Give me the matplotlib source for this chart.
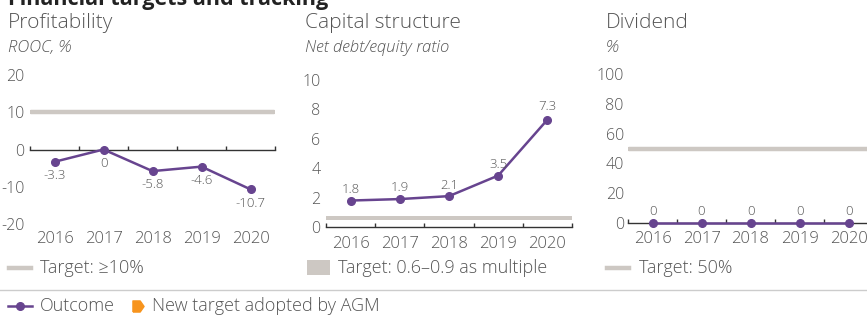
import numpy as np
import matplotlib.pyplot as plt
from matplotlib.lines import Line2D
from matplotlib.patches import Rectangle
from matplotlib.path import Path
import matplotlib.transforms as mtrans

plt.rcParams['font.family'] = ['Open Sans', 'DejaVu Sans']

years = ["2016", "2017", "2018", "2019", "2020"]
rooc = [-3.3, 0, -5.8, -4.6, -10.7]
debt_ratio = [1.8, 1.9, 2.1, 3.5, 7.3]
dividend = [0, 0, 0, 0, 0]
rooc_target = 10
debt_target = (0.6, 0.9)
dividend_target = 50

purple = "#67448f"
gray_target = "#cdc8c3"
text_c = "#555555"
orange = "#f7941d"

W, H = 867, 315
fig = plt.figure(figsize=(W / 100, H / 100), dpi=100)


def rect(x0, y0, x1, y1):
    # pixel box (top-left origin) -> figure fraction
    return [x0 / W, 1 - y1 / H, (x1 - x0) / W, (y1 - y0) / H]


def fx(x):
    return x / W


def fy(y):
    return 1 - y / H


def setup(ax, ylim, yticks, ylab_pad, year_off):
    ax.set_xlim(-0.5, 4.5)
    ax.set_ylim(*ylim)
    for s in ["top", "right", "left"]:
        ax.spines[s].set_visible(False)
    ax.spines["bottom"].set_position(("data", 0))
    ax.spines["bottom"].set_color("#333333")
    ax.spines["bottom"].set_linewidth(1.0)
    ax.set_xticks([])
    ax.set_xticks(np.arange(-0.5, 5, 1), minor=True)
    ax.tick_params(axis="x", which="minor", direction="in", length=3,
                   width=1.0, color="#333333")
    ax.set_yticks(yticks)
    ax.set_yticklabels([str(t) for t in yticks])
    ax.tick_params(axis="y", length=0, pad=ylab_pad, labelsize=11.5,
                   labelcolor=text_c)
    for lab in ax.get_yticklabels():
        lab.set_fontweight("light")
    tr = mtrans.blended_transform_factory(ax.transData, ax.transAxes)
    for i, y in enumerate(years):
        ax.text(i, year_off, y, transform=tr, ha="center", va="center",
                fontsize=12, color=text_c, fontweight="light")
    ax.set_facecolor("none")


x = np.arange(len(years))

# Profitability
ax1 = fig.add_axes(rect(30, 75, 275, 224))
setup(ax1, (-20, 20), [20, 10, 0, -10, -20], 4, -0.10)
ax1.axhline(rooc_target, color=gray_target, lw=3.2, solid_capstyle="round",
            xmin=0.005, xmax=0.995, zorder=1)
ax1.plot(x, rooc, color=purple, lw=1.8, marker="o", ms=5.5, zorder=3,
         clip_on=False)
for xi, v in zip(x, rooc):
    ax1.annotate(f"{v:g}", (xi, v), xytext=(0, -10), textcoords="offset points",
                 ha="center", va="center", fontsize=9.5, color=text_c,
                 fontweight="light")

# Capital structure
ax2 = fig.add_axes(rect(326, 80, 572, 227))
setup(ax2, (0, 10), [10, 8, 6, 4, 2, 0], 4, -0.115)
ax2.axhspan(debt_target[0] - 0.15, debt_target[1] - 0.15, color=gray_target,
            lw=0, zorder=1)
ax2.plot(x, debt_ratio, color=purple, lw=1.8, marker="o", ms=5.5, zorder=3,
         clip_on=False)
for xi, v in zip(x, debt_ratio):
    off = 9.5 if v > 5 else 8
    ax2.annotate(f"{v:g}", (xi, v), xytext=(0, off), textcoords="offset points",
                 ha="center", va="center", fontsize=9.5, color=text_c,
                 fontweight="light")

# Dividend
ax3 = fig.add_axes(rect(628, 74, 873, 223))
setup(ax3, (0, 100), [100, 80, 60, 40, 20, 0], 3, -0.105)
ax3.axhline(dividend_target, color=gray_target, lw=3.2,
            solid_capstyle="round", xmin=0.005, zorder=1)
ax3.plot(x, dividend, color=purple, lw=1.8, marker="o", ms=5.5, zorder=3,
         clip_on=False)
for xi, v in zip(x, dividend):
    ax3.annotate(f"{v:g}", (xi, v), xytext=(0, 8), textcoords="offset points",
                 ha="center", va="center", fontsize=9.5, color=text_c,
                 fontweight="light")

# headings
fig.text(fx(8), fy(5), "Financial targets and tracking", fontsize=15.5,
         fontweight="bold", color="#222222", va="baseline")
for px, title, sub in [(8, "Profitability", "ROOC, %"),
                       (305, "Capital structure", "Net debt/equity ratio"),
                       (606, "Dividend", "%")]:
    fig.text(fx(px), fy(23), title, fontsize=15, color=text_c, va="center",
             fontweight="light")
    fig.text(fx(px), fy(48), sub, fontsize=12, color=text_c, va="center",
             style="italic", fontweight="light")

# target legends
fig.add_artist(Line2D([fx(9), fx(31)], [fy(268), fy(268)], color=gray_target,
                      lw=3.2, transform=fig.transFigure))
fig.text(fx(40), fy(268), "Target: \u226510%", fontsize=13, color=text_c,
         va="center", fontweight="light")
fig.add_artist(Rectangle((fx(307), fy(275)), fx(23), 15 / H, color=gray_target,
                         lw=0, transform=fig.transFigure))
fig.text(fx(338), fy(268), "Target: 0.6\u20130.9 as multiple", fontsize=13,
         color=text_c, va="center", fontweight="light")
fig.add_artist(Line2D([fx(607), fx(629)], [fy(268), fy(268)], color=gray_target,
                      lw=3.2, transform=fig.transFigure))
fig.text(fx(639), fy(268), "Target: 50%", fontsize=13, color=text_c,
         va="center", fontweight="light")

# separator
fig.add_artist(Line2D([0, 1], [fy(290), fy(290)], color="#cccccc", lw=1,
                      transform=fig.transFigure))

# bottom legend
fig.add_artist(Line2D([fx(8), fx(32)], [fy(306), fy(306)], color=purple, lw=1.8,
                      transform=fig.transFigure))
fig.add_artist(Line2D([fx(20)], [fy(306)], color=purple, marker="o", ms=5.5,
                      transform=fig.transFigure))
fig.text(fx(40), fy(306), "Outcome", fontsize=13, color=text_c, va="center",
         fontweight="light")
flag = Path([(-1, -1), (0.3, -1), (1, 0), (0.3, 1), (-1, 1), (-1, -1)])
fig.add_artist(Line2D([fx(138)], [fy(306)], color=orange, marker=flag, ms=8,
                      lw=0, transform=fig.transFigure))
fig.text(fx(152), fy(306), "New target adopted by AGM", fontsize=13,
         color=text_c, va="center", fontweight="light")

fig.savefig("out.png", dpi=100)
